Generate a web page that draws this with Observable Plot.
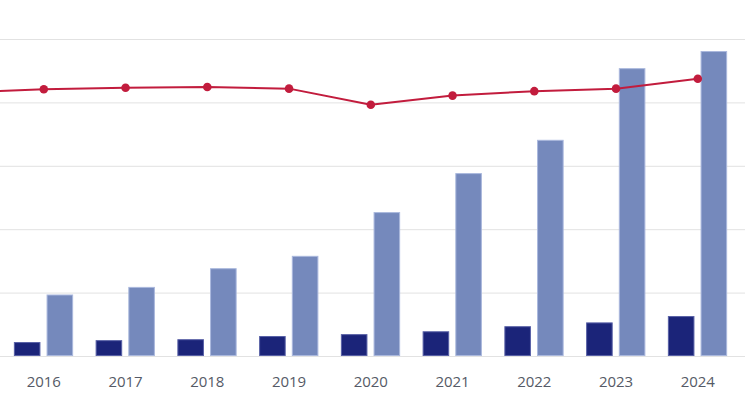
<!DOCTYPE html>
<html><head><meta charset="utf-8">
<script src="https://cdn.jsdelivr.net/npm/d3@7"></script>
<script src="https://cdn.jsdelivr.net/npm/@observablehq/plot@0.6"></script>
<style>
body{margin:0;background:#fff;}
#chart{width:745px;height:393px;overflow:hidden;}
#chart svg{overflow:hidden;}
</style>
</head><body><div id="chart"></div>
<script>
const years = [2016, 2017, 2018, 2019, 2020, 2021, 2022, 2023, 2024];
const darkValues = [22, 25, 26.5, 31.5, 34.5, 39, 47, 53, 63];
const lightValues = [97, 109, 138.5, 158, 227, 288.5, 341, 454, 481];
const lineYears = [2015, 2016, 2017, 2018, 2019, 2020, 2021, 2022, 2023, 2024];
const lineValues = [416.5, 421.5, 424, 425, 422.5, 397, 411.5, 418.5, 422.5, 438];
const gridValues = [0, 100, 200, 300, 400, 500];

const bars = years.map((year, i) => ({year, dark: darkValues[i], light: lightValues[i]}));
const line = lineYears.map((year, i) => ({year, value: lineValues[i]}));

const plot = Plot.plot({
  width: 745,
  height: 393,
  marginLeft: 0,
  marginRight: 0,
  marginTop: 0,
  marginBottom: 37,
  style: {fontFamily: "'Open Sans', sans-serif", fontSize: "15px", background: "#fff"},
  x: {type: "linear", domain: [2016, 2024], range: [43.3, 697.3]},
  y: {domain: [0, 500], range: [356, 39]},
  marks: [
    Plot.ruleY(gridValues, {stroke: "#e2e2e2", strokeWidth: 1}),
    Plot.rect(bars, {x1: d => d.year - 0.36, x2: d => d.year - 0.035, y1: 0, y2: "dark", fill: "#1b2479", stroke: "#5860a6", strokeWidth: 1, inset: 0.5}),
    Plot.rect(bars, {x1: d => d.year + 0.04, x2: d => d.year + 0.365, y1: 0, y2: "light", fill: "#7589bc", stroke: "#aab8dd", strokeWidth: 1, inset: 0.5}),
    Plot.line(line, {x: "year", y: "value", stroke: "#c21c3d", strokeWidth: 2}),
    Plot.dot(line, {x: "year", y: "value", r: 4.3, fill: "#c21c3d", stroke: "none"}),
    Plot.axisX({ticks: years, tickFormat: d => String(d), tickSize: 0, tickPadding: 19.5, fill: "#555a66", label: null}),
    Plot.axisY({ticks: [], label: null, tickSize: 0})
  ]
});
document.getElementById("chart").appendChild(plot);
</script>
</body></html>
